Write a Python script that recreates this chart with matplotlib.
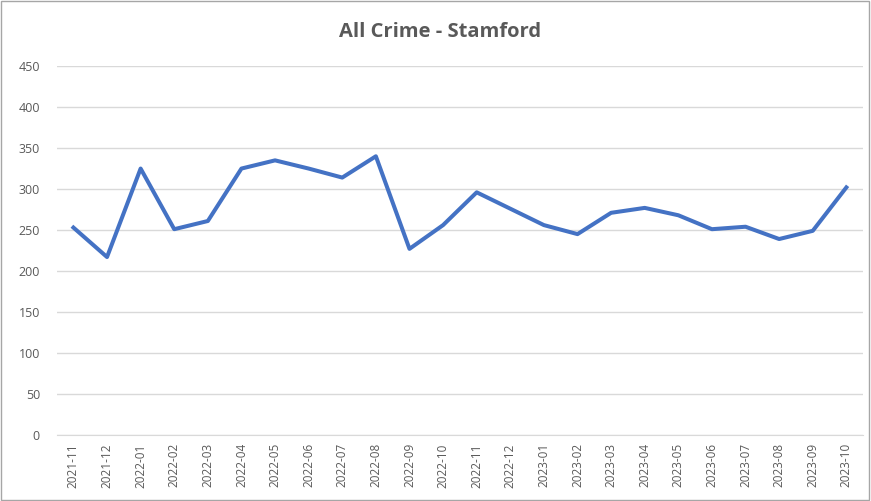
import matplotlib
matplotlib.use('Agg')
import matplotlib.pyplot as plt
from matplotlib.patches import Rectangle

# monthly counts
months = ['2021-11', '2021-12', '2022-01', '2022-02', '2022-03', '2022-04',
          '2022-05', '2022-06', '2022-07', '2022-08', '2022-09', '2022-10',
          '2022-11', '2022-12', '2023-01', '2023-02', '2023-03', '2023-04',
          '2023-05', '2023-06', '2023-07', '2023-08', '2023-09', '2023-10']
crimes = [253, 217, 325, 251, 261, 325, 335, 325, 314, 340, 227, 256,
          296, 276, 256, 245, 271, 277, 268, 251, 254, 239, 249, 302]
yticks = [0, 50, 100, 150, 200, 250, 300, 350, 400, 450]

plt.rcParams['font.family'] = ['Open Sans', 'DejaVu Sans']
grey = '#595959'

fig = plt.figure(figsize=(8.71, 5.01), dpi=100)
ax = fig.add_axes([0.065, 0.132, 0.926, 0.736])

x = list(range(len(months)))
ax.plot(x, crimes, color='#4472C4', linewidth=2.9, solid_joinstyle='round', zorder=3)

ax.set_xlim(-0.5, len(months) - 0.5)
ax.set_ylim(0, 450)
ax.set_yticks(yticks)
ax.set_xticks(x)
ax.set_xticklabels(months, rotation=90, fontsize=8.5, color=grey)
ax.tick_params(axis='y', labelsize=9, colors=grey, length=0, pad=12)
ax.tick_params(axis='x', length=0, pad=6)
ax.grid(axis='y', color='#d9d9d9', linewidth=1)
ax.set_axisbelow(True)
for s in ['top', 'right', 'left']:
    ax.spines[s].set_visible(False)
ax.spines['bottom'].set_color('#d9d9d9')

fig.text(0.505, 0.936, 'All Crime - Stamford', ha='center', va='center',
         fontsize=14.5, fontweight='bold', color=grey)

# chart border
fig.patches.append(Rectangle((0.001, 0.001), 0.997, 0.997, transform=fig.transFigure,
                             fill=False, edgecolor='#a6a6a6', linewidth=1))

fig.savefig('out.png', dpi=100)
